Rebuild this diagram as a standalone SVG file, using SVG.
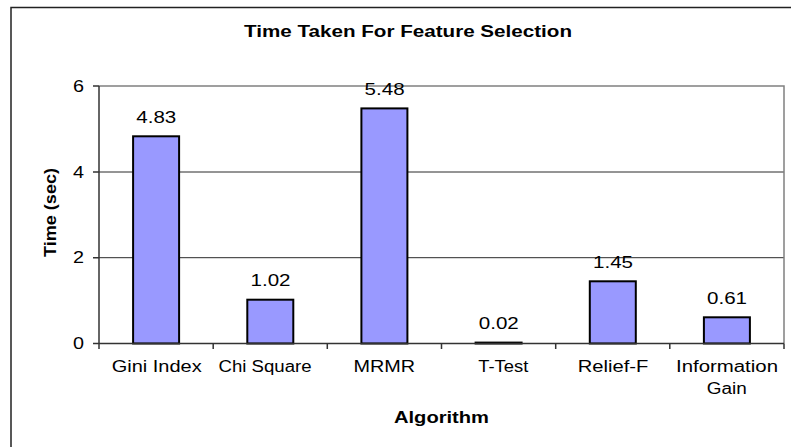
<svg xmlns="http://www.w3.org/2000/svg" width="791" height="447" viewBox="0 0 791 447">
  <style>
    text { font-family: "Liberation Sans", Arial, sans-serif; fill: #000; }
    .title { font-size: 16px; font-weight: bold; text-anchor: middle; }
    .axis-title { font-size: 16px; font-weight: bold; text-anchor: middle; }
    .tick { font-size: 16px; text-anchor: end; }
    .cat { font-size: 16px; text-anchor: middle; }
    .val { font-size: 16px; text-anchor: middle; }
    .bar { fill: #9999ff; stroke: #000; stroke-width: 2; }
    .grid { stroke: #2a2a2a; stroke-width: 1; fill: none; }
    .frame { stroke: #808080; stroke-width: 1.5; fill: none; }
    .axis { stroke: #333; stroke-width: 1.5; fill: none; }
  </style>

  <!-- chart area frame -->
  <rect x="11" y="7.5" width="800" height="460" fill="#fff" stroke="#222" stroke-width="1.5"/>

  <text class="title" x="408" y="36.7" textLength="328" lengthAdjust="spacingAndGlyphs">Time Taken For Feature Selection</text>

  <!-- plot area -->
  <g id="plot-area">
    <rect x="99" y="86" width="685" height="257.5" fill="#fff"/>
    <line class="grid" x1="99" y1="172" x2="784" y2="172"/>
    <line class="grid" x1="99" y1="257.7" x2="784" y2="257.7"/>
    <polyline class="frame" points="99,86 784,86 784,343.5"/>
  </g>

  <!-- bars -->
  <g id="bar-gini"><rect class="bar" x="133.1" y="136.3" width="46" height="207.2"/></g>
  <g id="bar-chi"><rect class="bar" x="247.3" y="299.7" width="46" height="43.8"/></g>
  <g id="bar-mrmr"><rect class="bar" x="361.4" y="108.4" width="46" height="235.1"/></g>
  <g id="bar-ttest"><rect class="bar" x="475.6" y="342.6" width="46" height="0.9"/></g>
  <g id="bar-relief"><rect class="bar" x="589.8" y="281.3" width="46" height="62.2"/></g>
  <g id="bar-infogain"><rect class="bar" x="703.9" y="317.3" width="46" height="26.2"/></g>

  <!-- axes and ticks -->
  <g id="axes">
    <line class="axis" x1="99" y1="86" x2="99" y2="349"/>
    <line class="axis" x1="93" y1="343.5" x2="784" y2="343.5"/>
    <path class="axis" d="M93 86H99 M93 172H99 M93 257.7H99
      M213.2 343.5V349 M327.3 343.5V349 M441.5 343.5V349 M555.7 343.5V349 M669.8 343.5V349 M784 343.5V349"/>
  </g>

  <!-- value axis labels -->
  <g id="value-axis">
    <text class="tick" x="84" y="91.7" textLength="11" lengthAdjust="spacingAndGlyphs">6</text>
    <text class="tick" x="84" y="177.7" textLength="11" lengthAdjust="spacingAndGlyphs">4</text>
    <text class="tick" x="84" y="263.4" textLength="11" lengthAdjust="spacingAndGlyphs">2</text>
    <text class="tick" x="84" y="349.2" textLength="11" lengthAdjust="spacingAndGlyphs">0</text>
    <text class="axis-title" transform="translate(55.5,212.5) rotate(-90)" textLength="89" lengthAdjust="spacingAndGlyphs">Time (sec)</text>
  </g>

  <!-- data labels -->
  <g id="data-labels">
    <text class="val" x="156.3" y="123" textLength="40" lengthAdjust="spacingAndGlyphs">4.83</text>
    <text class="val" x="270.5" y="286.3" textLength="40" lengthAdjust="spacingAndGlyphs">1.02</text>
    <text class="val" x="384.6" y="95" textLength="40" lengthAdjust="spacingAndGlyphs">5.48</text>
    <text class="val" x="498.8" y="328.6" textLength="40" lengthAdjust="spacingAndGlyphs">0.02</text>
    <text class="val" x="613" y="267.8" textLength="40" lengthAdjust="spacingAndGlyphs">1.45</text>
    <text class="val" x="727" y="303.6" textLength="40" lengthAdjust="spacingAndGlyphs">0.61</text>
  </g>

  <!-- category labels -->
  <g id="category-axis">
    <text class="cat" x="156.7" y="372" textLength="90" lengthAdjust="spacingAndGlyphs">Gini Index</text>
    <text class="cat" x="265" y="372" textLength="93" lengthAdjust="spacingAndGlyphs">Chi Square</text>
    <text class="cat" x="384.3" y="372" textLength="61.6" lengthAdjust="spacingAndGlyphs">MRMR</text>
    <text class="cat" x="503.3" y="372" textLength="50" lengthAdjust="spacingAndGlyphs">T-Test</text>
    <text class="cat" x="613" y="372" textLength="70.6" lengthAdjust="spacingAndGlyphs">Relief-F</text>
    <text class="cat" x="727" y="372" textLength="102" lengthAdjust="spacingAndGlyphs">Information</text>
    <text class="cat" x="726.7" y="394" textLength="40" lengthAdjust="spacingAndGlyphs">Gain</text>
    <text class="axis-title" x="441.5" y="423.3" textLength="95" lengthAdjust="spacingAndGlyphs">Algorithm</text>
  </g>
</svg>
